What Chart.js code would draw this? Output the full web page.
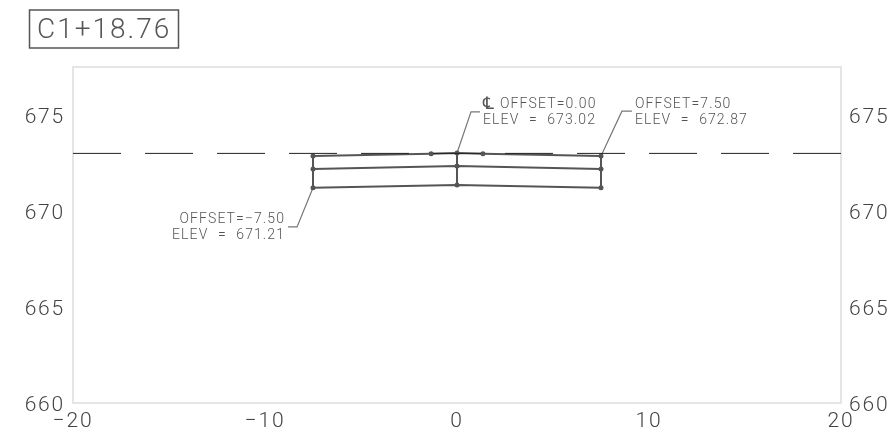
<!DOCTYPE html>
<html>
<head>
<meta charset="utf-8">
<style>
  html, body { margin: 0; padding: 0; background: #fff; }
  canvas { display: block; }
</style>
<script src="https://cdn.jsdelivr.net/npm/chart.js@4/dist/chart.umd.min.js"></script>
</head>
<body>
<canvas id="sectionChart" width="896" height="432"></canvas>
<script>
var stationLabel = "C1+18.76";

// offset, elevation
var groundOffsets = [-20, 20];
var groundElev = [673, 673];
var topOffsets = [-7.5, -1.35, 0, 1.35, 7.5];
var topElev = [672.87, 672.98, 673.02, 672.98, 672.87];
var midOffsets = [-7.5, 0, 7.5];
var midElev = [672.19, 672.34, 672.19];
var botOffsets = [-7.5, 0, 7.5];
var botElev = [671.21, 671.35, 671.21];
var wallOffsets = [-7.5, 0, 7.5];

// leaders: tip, elbow, end of shelf
var leaderLeftX = [-7.5, -8.33, -8.8];
var leaderLeftY = [671.21, 669.17, 669.17];
var leaderCenterX = [0, 0.73, 1.2];
var leaderCenterY = [673.02, 675.16, 675.16];
var leaderRightX = [7.5, 8.59, 9.11];
var leaderRightY = [672.87, 675.2, 675.2];

var leftNote = ["OFFSET=\u22127.50", "ELEV = 671.21"];
var centerMark = "\u2104";
var centerNote = ["OFFSET=0.00", "ELEV = 673.02"];
var rightNote = ["OFFSET=7.50", "ELEV = 672.87"];

function pts(xs, ys) {
  return xs.map(function (x, i) { return { x: x, y: ys[i] }; });
}

function wall(i) {
  return {
    data: [{ x: wallOffsets[i], y: botElev[i] }, { x: wallOffsets[i], y: topElev[i * 2] }],
    borderColor: "#555", borderWidth: 2, pointRadius: 0
  };
}

function layer(xs, ys) {
  return {
    data: pts(xs, ys),
    borderColor: "#555", borderWidth: 2,
    pointRadius: 2.5, pointBackgroundColor: "#555", pointBorderWidth: 0
  };
}

function leader(xs, ys) {
  return { data: pts(xs, ys), borderColor: "#777", borderWidth: 1.2, pointRadius: 0 };
}

var uiFont = "Roboto";

var notesPlugin = {
  id: "notes",
  beforeDraw: function (chart) {
    var ctx = chart.ctx, a = chart.chartArea;
    ctx.strokeStyle = "#ddd";
    ctx.lineWidth = 1.5;
    ctx.strokeRect(a.left, a.top, a.right - a.left, a.bottom - a.top);
    // wider digits on the axis labels
    ctx.letterSpacing = "1.8px";
  },
  afterDatasetsDraw: function (chart) {
    var ctx = chart.ctx, sx = chart.scales.x, sy = chart.scales.y;
    ctx.save();
    ctx.font = "300 14px " + uiFont;
    ctx.letterSpacing = "1.1px";
    ctx.wordSpacing = "5px";
    ctx.fillStyle = "#555";
    ctx.textBaseline = "middle";

    function note(lines, xs, ys, dir, firstIndent) {
      var px = sx.getPixelForValue(xs[2]);
      var py = sy.getPixelForValue(ys[2]);
      ctx.textAlign = dir < 0 ? "right" : "left";
      ctx.fillText(lines[0], px + dir * 3 + firstIndent, py - 7);
      ctx.fillText(lines[1], px + dir * 3, py + 9);
    }
    note(leftNote, leaderLeftX, leaderLeftY, -1, 0);
    note(centerNote, leaderCenterX, leaderCenterY, 1, 17);
    note(rightNote, leaderRightX, leaderRightY, 1, 0);

    // centreline mark sits in front of the first line of its note
    ctx.font = "17px 'DejaVu Sans'";
    ctx.letterSpacing = "0px";
    ctx.fillText(centerMark, sx.getPixelForValue(leaderCenterX[2]) + 3, sy.getPixelForValue(leaderCenterY[2]) - 7);

    // station box
    ctx.wordSpacing = "0px";
    ctx.strokeStyle = "#555";
    ctx.lineWidth = 1.5;
    ctx.strokeRect(29.5, 10, 149, 38);
    ctx.font = "300 28px " + uiFont;
    ctx.letterSpacing = "2px";
    ctx.textAlign = "left";
    ctx.fillText(stationLabel, 37, 31);
    ctx.restore();
    ctx.letterSpacing = "0px";
  }
};

function axisNum(v) {
  return String(v).replace("-", "\u2212");
}

function fivesOnly(axis) {
  axis.ticks = axis.ticks.filter(function (t) { return t.value % 5 === 0; });
}

var tickStyle = { size: 21, family: uiFont, weight: "300" };

new Chart("sectionChart", {
  type: "line",
  data: {
    datasets: [
      { data: pts(groundOffsets, groundElev), borderColor: "#222", borderWidth: 1, pointRadius: 0, borderDash: [48, 24] },
      layer(topOffsets, topElev),
      layer(midOffsets, midElev),
      layer(botOffsets, botElev),
      wall(0), wall(1), wall(2),
      leader(leaderLeftX, leaderLeftY),
      leader(leaderCenterX, leaderCenterY),
      leader(leaderRightX, leaderRightY)
    ]
  },
  options: {
    responsive: false,
    animation: false,
    layout: { padding: { top: 67, left: 0, right: 0, bottom: 0 } },
    plugins: { legend: { display: false }, tooltip: { enabled: false } },
    scales: {
      x: {
        type: "linear", min: -20, max: 20,
        grid: { display: false, drawTicks: false },
        border: { display: false },
        ticks: { stepSize: 10, maxRotation: 0, color: "#444", font: tickStyle, padding: 6, callback: axisNum },
        afterFit: function (a) { a.height = 29; }
      },
      y: {
        type: "linear", min: 660, max: 677.5,
        grid: { display: false, drawTicks: false },
        border: { display: false },
        afterBuildTicks: fivesOnly,
        ticks: { stepSize: 5, color: "#444", font: tickStyle, padding: 8, labelOffset: 3, callback: axisNum },
        afterFit: function (a) { a.width = 73; }
      },
      yRight: {
        type: "linear", position: "right", min: 660, max: 677.5,
        grid: { display: false, drawTicks: false },
        border: { display: false },
        afterBuildTicks: fivesOnly,
        ticks: { stepSize: 5, color: "#444", font: tickStyle, padding: 8, labelOffset: 3, callback: axisNum },
        afterFit: function (a) { a.width = 55; }
      }
    }
  },
  plugins: [notesPlugin]
});
</script>
</body>
</html>
